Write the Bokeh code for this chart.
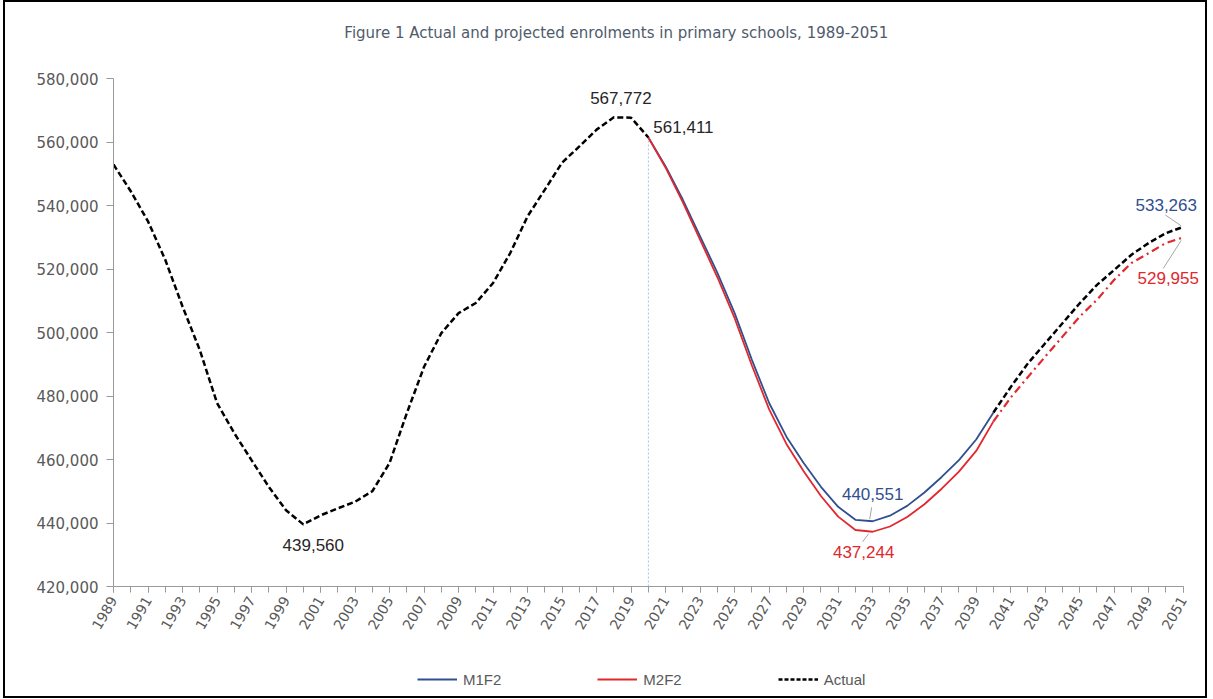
import math
from bokeh.plotting import figure
from bokeh.layouts import column
from bokeh.models import Range1d, FixedTicker, NumeralTickFormatter, Label, Legend, LegendItem
from bokeh.embed import file_html
from bokeh.resources import INLINE

# ---------------- data ----------------
title_text = "Figure 1 Actual and projected enrolments in primary schools, 1989-2051"

actual_years = list(range(1989, 2021))
actual = [552900, 544500, 535000, 522900, 508200, 494500, 477800, 468300, 459800, 451400,
          444000, 439560, 442400, 444600, 446700, 450000, 458900, 474600, 489200, 499800,
          506100, 509300, 515600, 525100, 536600, 545000, 553500, 558600, 563900, 567772,
          567650, 561411]

proj_years = list(range(2020, 2052))
m1f2 = [561411, 552300, 541800, 530300, 518800, 506100, 491400, 477800, 467200, 458900,
        451400, 445100, 441000, 440551, 442300, 445400, 449600, 454500, 459800, 466300,
        474800, 482800, 490300, 496600, 502900, 509200, 515000, 519700, 524500, 528200,
        531300, 533263]
m2f2 = [561411, 551900, 541000, 529200, 517400, 504500, 489600, 475800, 464900, 456300,
        448500, 442000, 437800, 437244, 438900, 441900, 445900, 450800, 456200, 462700,
        472000, 479500, 486000, 492400, 498700, 505000, 510300, 516600, 521900, 525000,
        528200, 529955]

series_names = ["M1F2", "M2F2", "Actual"]
x_tick_labels = list(range(1989, 2052, 2))
y_ticks = list(range(420000, 580001, 20000))
split_year = 2040

# ---------------- styles ----------------
BLUE = "#2F4F8F"
RED = "#E0282E"
GREY_TXT = "#595959"
AXIS_GREY = "#9A9A9A"
ACT_DASH = "6 3"
M2_DASH = "8 4 2 4"

# pixel scale of the reference plot area
px_x = (1183 - 113) / 62.0          # px per year
px_y = (586 - 78) / 160000.0        # px per pupil
x0, x1 = x_tick_labels[0], x_tick_labels[-1]
y0, y1 = y_ticks[0], y_ticks[-1]
top_extra = (78 - 8) / px_y         # room above the value axis for the title

p = figure(width=1200, height=648,
           x_range=Range1d(x0, x1 + 1), y_range=Range1d(y0, y1 + top_extra),
           output_backend="svg", toolbar_location=None,
           min_border_left=108, min_border_right=5, min_border_top=6, min_border_bottom=64)
p.xgrid.visible = False
p.ygrid.visible = False
p.outline_line_color = None
p.background_fill_color = "white"
p.border_fill_color = "white"

# axes
xa = p.xaxis[0]
xa.bounds = (x0, x1)
xa.ticker = FixedTicker(ticks=x_tick_labels, minor_ticks=list(range(x0, x1 + 1)))
xa.major_label_orientation = math.pi / 3
xa.major_label_text_font = "DejaVu Sans"
xa.major_label_text_font_size = "14px"
xa.major_label_text_color = GREY_TXT
xa.axis_line_color = AXIS_GREY
xa.major_tick_line_color = AXIS_GREY
xa.minor_tick_line_color = AXIS_GREY
xa.major_tick_in = 0
xa.major_tick_out = 6
xa.minor_tick_in = 0
xa.minor_tick_out = 6
xa.major_label_standoff = 5

ya = p.yaxis[0]
ya.bounds = (y0, y1)
ya.ticker = FixedTicker(ticks=y_ticks)
ya.formatter = NumeralTickFormatter(format="0,0")
ya.major_label_text_font = "DejaVu Sans"
ya.major_label_text_font_size = "15px"
ya.major_label_text_color = GREY_TXT
ya.axis_line_color = AXIS_GREY
ya.major_tick_line_color = AXIS_GREY
ya.minor_tick_line_color = None
ya.major_tick_in = 0
ya.major_tick_out = 7
ya.major_label_standoff = 8

# title, placed in the space above the value axis
p.add_layout(Label(x=x0 + (616 - 113) / px_x, y=y1 + (78 - 32) / px_y, text=title_text,
                   text_align="center", text_baseline="middle", text_font="DejaVu Sans",
                   text_font_size="15px", text_color="#4F5B6B"))

# vertical marker at start of projections
p.segment(x0=[actual_years[-1]], y0=[y0], x1=[actual_years[-1]], y1=[actual[-1]],
          line_color="#9DC3E6", line_width=1, line_dash="2 2")

# projection lines
k = proj_years.index(split_year)
p.line(proj_years[:k + 1], m1f2[:k + 1], line_color=BLUE, line_width=1.8)
p.line(proj_years[:k + 1], m2f2[:k + 1], line_color=RED, line_width=1.8)
p.line(proj_years[k:], m2f2[k:], line_color=RED, line_width=2.2, line_dash=M2_DASH)
p.line(proj_years[k:], m1f2[k:], line_color="black", line_width=2.5, line_dash=ACT_DASH)

# actual
p.line(actual_years, actual, line_color="black", line_width=2.5, line_dash=ACT_DASH)


def leader(x, y, dx0, dy0, dx1, dy1):
    p.segment(x0=[x + dx0 / px_x], y0=[y + dy0 / px_y], x1=[x + dx1 / px_x], y1=[y + dy1 / px_y],
              line_color="#A6A6A6", line_width=1)


def lab(x, y, txt, color, xo, yo, align="center"):
    p.add_layout(Label(x=x, y=y, text=txt, x_offset=xo, y_offset=yo, text_align=align,
                       text_baseline="middle", text_font="Liberation Sans",
                       text_font_size="17px", text_color=color))


i_peak = actual.index(max(actual))
i_min = actual.index(min(actual))
lab(actual_years[i_peak], actual[i_peak], f"{actual[i_peak]:,}", "#262626", 7, 19)
lab(actual_years[-1], actual[-1], f"{actual[-1]:,}", "#262626", 5, 11, "left")
lab(actual_years[i_min], actual[i_min], f"{actual[i_min]:,}", "#262626", 10, -21)

j1 = m1f2.index(min(m1f2))
j2 = m2f2.index(min(m2f2))
lab(proj_years[j1], m1f2[j1], f"{m1f2[j1]:,}", BLUE, 0, 27)
leader(proj_years[j1], m1f2[j1], -1, 14, -3, 2)
lab(proj_years[j2], m2f2[j2], f"{m2f2[j2]:,}", RED, -9, -20)
leader(proj_years[j2], m2f2[j2], -4, -2, -10, -10)

lab(proj_years[-1], m1f2[-1], f"{m1f2[-1]:,}", BLUE, -17, 22)
leader(proj_years[-1], m1f2[-1], -2, 1, -18, 12)
lab(proj_years[-1], m2f2[-1], f"{m2f2[-1]:,}", RED, -15, -41)
leader(proj_years[-1], m2f2[-1], -2, -3, -20, -31)

# ---------------- legend strip ----------------
p2 = figure(width=1200, height=46, x_range=Range1d(0, 1), y_range=Range1d(0, 1),
            output_backend="svg", toolbar_location=None, x_axis_type=None, y_axis_type=None,
            min_border=0)
p2.grid.visible = False
p2.outline_line_color = None
p2.background_fill_color = "white"
p2.border_fill_color = "white"
nan = [math.nan]
g1 = p2.line(nan, nan, line_color=BLUE, line_width=1.8)
g2 = p2.line(nan, nan, line_color=RED, line_width=1.8)
g3 = p2.line(nan, nan, line_color="black", line_width=2.5, line_dash="4 2")

legend = Legend(items=[LegendItem(label=series_names[0], renderers=[g1]),
                       LegendItem(label=series_names[1], renderers=[g2]),
                       LegendItem(label=series_names[2], renderers=[g3])],
                orientation="horizontal", location=(304, 7),
                spacing=96, glyph_width=40, glyph_height=20, label_height=20, label_standoff=6,
                padding=0, margin=0, border_line_color=None, background_fill_alpha=0,
                label_text_font="Liberation Sans", label_text_font_size="15px",
                label_text_color=GREY_TXT)
p2.add_layout(legend, "center")

layout = column(p, p2, spacing=0)
layout.styles = {"border": "2px solid black", "margin-left": "3px", "width": "fit-content"}

open("out.html", "w").write(file_html(layout, INLINE))
